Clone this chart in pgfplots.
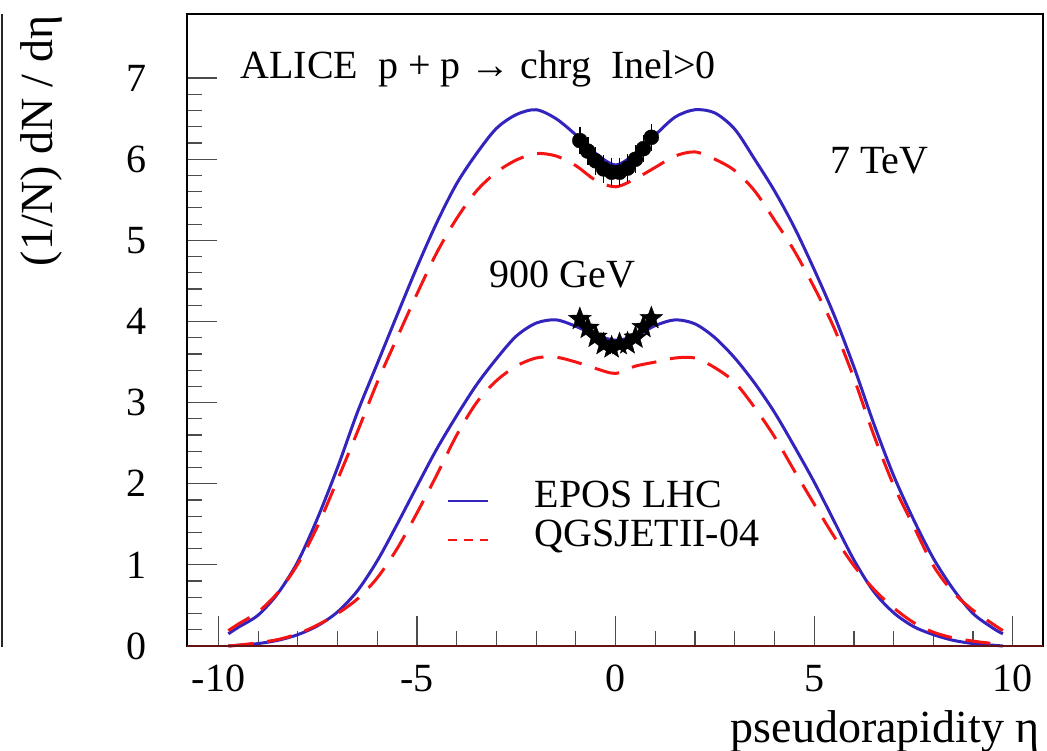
\documentclass[border=0pt]{standalone}
\usepackage{pgfplots}
\pgfplotsset{compat=1.18}
\usepackage{fontspec}
\setmainfont{Liberation Serif}
\definecolor{eposblue}{RGB}{52,36,190}
\definecolor{qgsred}{RGB}{245,20,20}
\definecolor{axred}{RGB}{100,20,20}
\newcommand{\fs}{\fontsize{40}{48}\selectfont}
\newcommand{\fl}{\fontsize{46}{54}\selectfont}
\pgfdeclareplotmark{fstar}{%
  \pgfpathmoveto{\pgfpointpolar{90}{\pgfplotmarksize}}%
  \pgfpathlineto{\pgfpointpolar{126}{0.42\pgfplotmarksize}}%
  \pgfpathlineto{\pgfpointpolar{162}{\pgfplotmarksize}}%
  \pgfpathlineto{\pgfpointpolar{198}{0.42\pgfplotmarksize}}%
  \pgfpathlineto{\pgfpointpolar{234}{\pgfplotmarksize}}%
  \pgfpathlineto{\pgfpointpolar{270}{0.42\pgfplotmarksize}}%
  \pgfpathlineto{\pgfpointpolar{306}{\pgfplotmarksize}}%
  \pgfpathlineto{\pgfpointpolar{342}{0.42\pgfplotmarksize}}%
  \pgfpathlineto{\pgfpointpolar{18}{\pgfplotmarksize}}%
  \pgfpathlineto{\pgfpointpolar{54}{0.42\pgfplotmarksize}}%
  \pgfpathclose
  \pgfusepathqfillstroke
}
\begin{document}
\begin{tikzpicture}
\path[use as bounding box] (-187pt,-104pt) rectangle (860pt,646pt);
\begin{axis}[
  at={(0pt,0pt)}, anchor=south west,
  scale only axis, width=856pt, height=632pt,
  xmin=-10.79, xmax=10.76, ymin=0, ymax=7.79,
  xtick={-10,-5,0,5,10}, xticklabels={-10,-5,0,5,10},
  ytick={0,1,2,3,4,5,6,7}, yticklabels={0,1,2,3,4,5,6,7},
  minor x tick num=4, minor y tick num=4,
  tick align=inside, xtick pos=bottom, ytick pos=left,
  major tick length=30pt, minor tick length=15pt,
  tick style={black!70, line width=1.2pt},
  axis line style={line width=1.8pt},
  xticklabel style={font=\fs, inner sep=0pt, anchor=north, yshift=-19pt},
  yticklabel style={font=\fs, inner sep=0pt, anchor=east, xshift=-40pt},
  legend cell align=left,
  legend image code/.code={\draw[#1, line width=2.5pt] (0pt,0pt) -- (40pt,0pt);},
  legend style={draw=none, fill=none, inner sep=0pt, outer sep=0pt,
    at={(axis cs:-4.24,2.03)}, anchor=north west, row sep=0pt, column sep=45pt,
    font=\fs, nodes={inner sep=0pt, text height=26pt, text depth=13pt}},
  clip=false,
]
% 7 TeV EPOS LHC
\addplot[eposblue, line width=3pt, smooth, tension=0.5] coordinates {
(-9.75,0.15)(-9.5,0.23)(-9,0.38)(-8.5,0.65)(-8,1.04)(-7.5,1.58)(-7,2.20)(-6.5,2.88)(-6,3.48)(-5.5,4.08)(-5,4.67)(-4.5,5.22)(-4,5.70)(-3.5,6.07)(-3,6.38)(-2.5,6.55)(-2,6.61)(-1.5,6.50)(-1,6.30)(-0.5,6.07)(0,5.93)(0.5,6.07)(1,6.30)(1.5,6.52)(2,6.61)(2.5,6.57)(3,6.37)(3.5,6.00)(4,5.61)(4.5,5.16)(5,4.64)(5.5,4.08)(6,3.44)(6.5,2.74)(7,2.10)(7.5,1.56)(8,1.08)(8.5,0.70)(9,0.40)(9.5,0.22)(9.75,0.15)};
\addlegendentry{EPOS LHC}
% 7 TeV QGSJETII-04
\addplot[qgsred, line width=3pt, dash pattern=on 25pt off 14pt, smooth, tension=0.5,
  legend image post style={dash pattern=on 9pt off 7pt}] coordinates {
(-9.75,0.19)(-9.5,0.27)(-9,0.42)(-8.5,0.66)(-8,1.01)(-7.5,1.48)(-7,2.05)(-6.5,2.64)(-6,3.25)(-5.5,3.80)(-5,4.34)(-4.5,4.85)(-4,5.27)(-3.5,5.61)(-3,5.84)(-2.5,5.99)(-2,6.07)(-1.5,6.04)(-1,5.92)(-0.5,5.74)(0,5.66)(0.5,5.76)(1,5.90)(1.5,6.04)(2,6.09)(2.5,6.00)(3,5.86)(3.5,5.61)(4,5.25)(4.5,4.87)(5,4.42)(5.5,3.92)(6,3.30)(6.5,2.60)(7,1.98)(7.5,1.48)(8,0.99)(8.5,0.66)(9,0.44)(9.5,0.27)(9.75,0.19)};
\addlegendentry{QGSJETII-04}
% 900 GeV EPOS LHC
\addplot[eposblue, line width=3pt, smooth, tension=0.5, forget plot] coordinates {
(-9.75,0.0)(-9.5,0.01)(-9,0.03)(-8.5,0.07)(-8,0.14)(-7.5,0.25)(-7,0.42)(-6.5,0.68)(-6,1.05)(-5.5,1.50)(-5,1.97)(-4.5,2.43)(-4,2.84)(-3.5,3.22)(-3,3.54)(-2.5,3.82)(-2,3.98)(-1.5,4.02)(-1,3.94)(-0.5,3.83)(0,3.77)(0.5,3.82)(1,3.95)(1.5,4.02)(2,3.97)(2.5,3.80)(3,3.55)(3.5,3.24)(4,2.88)(4.5,2.46)(5,2.02)(5.5,1.54)(6,1.06)(6.5,0.67)(7,0.41)(7.5,0.24)(8,0.14)(8.5,0.07)(9,0.03)(9.5,0.01)(9.75,0.0)};
% 900 GeV QGSJETII-04
\addplot[qgsred, line width=3pt, dash pattern=on 25pt off 14pt, smooth, tension=0.5, forget plot] coordinates {
(-9.75,0.0)(-9.5,0.01)(-9,0.04)(-8.5,0.08)(-8,0.15)(-7.5,0.26)(-7,0.40)(-6.5,0.58)(-6,0.84)(-5.5,1.20)(-5,1.64)(-4.5,2.11)(-4,2.60)(-3.5,3.00)(-3,3.27)(-2.5,3.45)(-2,3.55)(-1.5,3.56)(-1,3.50)(-0.5,3.42)(0,3.36)(0.5,3.45)(1,3.50)(1.5,3.55)(2,3.55)(2.5,3.43)(3,3.25)(3.5,2.94)(4,2.58)(4.5,2.16)(5,1.75)(5.5,1.35)(6,0.99)(6.5,0.70)(7,0.47)(7.5,0.29)(8,0.17)(8.5,0.10)(9,0.06)(9.5,0.03)(9.75,0.01)};
% ALICE 7 TeV data
\addplot[only marks, mark=*, mark size=7.5pt, black, forget plot,
  error bars/.cd, y dir=both, y explicit, error mark=none,
  error bar style={line width=1.5pt, black}] coordinates {
(-0.9,6.23) +- (0,0.17) (-0.7,6.10) +- (0,0.17) (-0.5,5.98) +- (0,0.17) (-0.3,5.88) +- (0,0.17) (-0.1,5.84) +- (0,0.17)
(0.1,5.84) +- (0,0.17) (0.3,5.89) +- (0,0.17) (0.5,6.00) +- (0,0.17) (0.7,6.13) +- (0,0.17) (0.9,6.27) +- (0,0.17)};
% ALICE 900 GeV data
\addplot[only marks, mark=fstar, mark size=12pt, black, forget plot] coordinates {
(-0.9,4.03)(-0.7,3.92)(-0.5,3.81)(-0.3,3.72)(-0.1,3.68)(0.1,3.72)(0.3,3.73)(0.5,3.80)(0.7,3.93)(0.9,4.04)};
\node[anchor=base west, inner sep=0pt, font=\fs] at (axis cs:-9.45,7.0) {ALICE\ \ p + p → chrg\ \ Inel>0};
\node[anchor=base west, inner sep=0pt, font=\fs] at (axis cs:5.40,5.83) {7 TeV};
\node[anchor=base west, inner sep=0pt, font=\fs] at (axis cs:-3.18,4.42) {900 GeV};
\end{axis}
\draw[line width=2pt, axred] (0pt,0pt) -- (856pt,0pt);
\draw[line width=2pt, black!85] (-185pt,-1pt) -- (-185pt,632pt);
\node[rotate=90, inner sep=0pt, font=\fl] at (-146pt,505pt) {(1/N) dN / dη};
\node[anchor=base east, inner sep=0pt, font=\fl] at (853pt,-96pt) {pseudorapidity η};
\end{tikzpicture}
\end{document}
